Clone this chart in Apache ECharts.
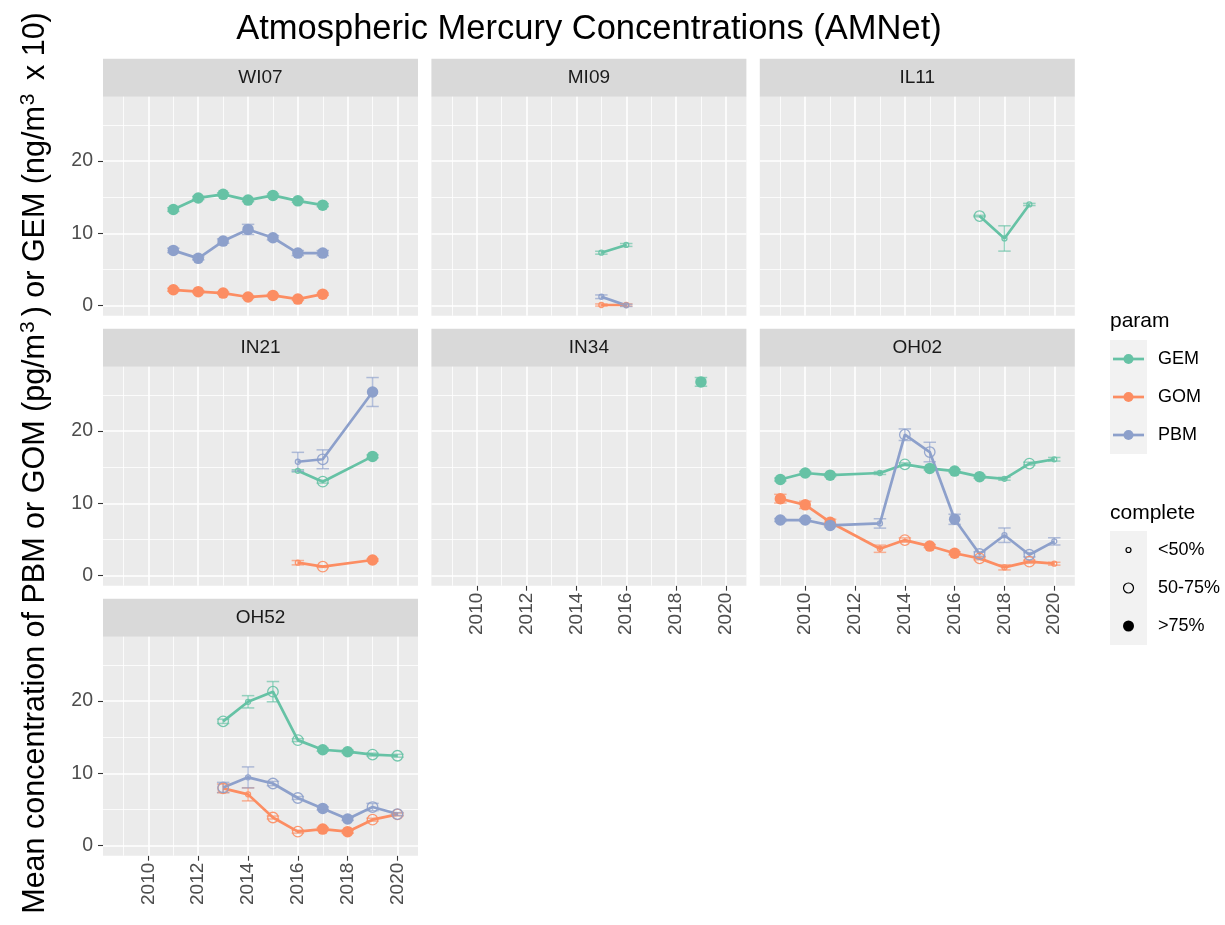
<!DOCTYPE html>
<html><head><meta charset="utf-8">
<script src="https://cdn.jsdelivr.net/npm/echarts@6/dist/echarts.min.js"></script>
<style>html,body{margin:0;background:#fff}#c{width:1225px;height:925px}</style>
</head><body><div id="c"></div><script>
// ---------------- DATA ----------------
const sites = ['WI07','MI09','IL11','IN21','IN34','OH02','OH52'];
const params = ['GEM','GOM','PBM'];
const completeLabels = ['<50%','50-75%','>75%'];
const xTickValues = [2010,2012,2014,2016,2018,2020];
const yTickValues = [0,10,20];

const WI07_years = [2011,2012,2013,2014,2015,2016,2017];
const WI07_GEM = [13.3,14.9,15.4,14.6,15.25,14.5,13.9];
const WI07_GEM_err = [0.25,0.2,0.2,0.2,0.2,0.2,0.2];
const WI07_GEM_cmp = [2,2,2,2,2,2,2];
const WI07_GOM = [2.2,1.94,1.75,1.2,1.43,0.92,1.6];
const WI07_GOM_err = [0.2,0.15,0.15,0.15,0.15,0.15,0.15];
const WI07_GOM_cmp = [2,2,2,2,2,2,2];
const WI07_PBM = [7.65,6.55,8.94,10.55,9.4,7.28,7.28];
const WI07_PBM_err = [0.3,0.2,0.3,0.7,0.3,0.35,0.35];
const WI07_PBM_cmp = [2,2,2,2,2,2,2];

const MI09_years = [2015,2016];
const MI09_GEM = [7.33,8.4];
const MI09_GEM_err = [0.2,0.2];
const MI09_GEM_cmp = [0,0];
const MI09_GOM = [0.1,0.1];
const MI09_GOM_err = [0.15,0.15];
const MI09_GOM_cmp = [0,0];
const MI09_PBM = [1.24,0.05];
const MI09_PBM_err = [0.25,0.15];
const MI09_PBM_cmp = [0,0];

const IL11_years = [2017,2018,2019];
const IL11_GEM = [12.4,9.3,14.0];
const IL11_GEM_err = [0.1,1.75,0.15];
const IL11_GEM_cmp = [1,0,0];

const IN21_years = [2016,2017,2019];
const IN21_GEM = [14.5,13.0,16.5];
const IN21_GEM_err = [0.15,0.2,0.2];
const IN21_GEM_cmp = [0,1,2];
const IN21_GOM = [1.8,1.25,2.17];
const IN21_GOM_err = [0.3,0.1,0.15];
const IN21_GOM_cmp = [0,1,2];
const IN21_PBM = [15.76,16.1,25.4];
const IN21_PBM_err = [1.3,1.3,2.0];
const IN21_PBM_cmp = [0,1,2];

const IN34_years = [2019];
const IN34_GEM = [26.8];
const IN34_GEM_err = [0.6];
const IN34_GEM_cmp = [2];

const OH02_years = [2009,2010,2011,2013,2014,2015,2016,2017,2018,2019,2020];
const OH02_GEM = [13.3,14.2,13.9,14.2,15.4,14.84,14.47,13.7,13.4,15.5,16.1];
const OH02_GEM_err = [0.2,0.2,0.2,0.2,0.2,0.2,0.2,0.2,0.2,0.2,0.25];
const OH02_GEM_cmp = [2,2,2,0,1,2,2,2,0,1,0];
const OH02_GOM = [10.65,9.8,7.4,3.73,4.93,4.1,3.1,2.4,1.15,1.94,1.66];
const OH02_GOM_err = [0.6,0.5,0.4,0.5,0.3,0.2,0.2,0.2,0.35,0.2,0.2];
const OH02_GOM_cmp = [2,2,2,0,1,2,2,1,0,1,0];
const OH02_PBM = [7.7,7.7,6.96,7.23,19.5,17.1,7.8,3.0,5.6,2.9,4.75];
const OH02_PBM_err = [0.2,0.2,0.2,0.65,0.8,1.35,0.7,0.3,1.0,0.3,0.5];
const OH02_PBM_cmp = [2,2,2,0,1,1,2,1,0,1,0];

const OH52_years = [2013,2014,2015,2016,2017,2018,2019,2020];
const OH52_GEM = [17.2,19.9,21.3,14.6,13.27,13.0,12.6,12.44];
const OH52_GEM_err = [0.3,0.85,1.4,0.2,0.2,0.2,0.2,0.2];
const OH52_GEM_cmp = [1,0,1,1,2,2,1,1];
const OH52_GOM = [7.93,7.1,3.9,1.94,2.3,1.94,3.6,4.33];
const OH52_GOM_err = [0.6,0.9,0.2,0.2,0.2,0.2,0.2,0.2];
const OH52_GOM_cmp = [1,0,1,1,2,2,1,1];
const OH52_PBM = [8.06,9.45,8.6,6.6,5.16,3.7,5.35,4.38];
const OH52_PBM_err = [0.7,1.45,0.3,0.2,0.2,0.2,0.5,0.2];
const OH52_PBM_cmp = [1,0,1,1,2,2,1,1];

// --------------- build ----------------
const DATA = {
  WI07: {years: WI07_years, GEM: [WI07_GEM, WI07_GEM_err, WI07_GEM_cmp], GOM: [WI07_GOM, WI07_GOM_err, WI07_GOM_cmp], PBM: [WI07_PBM, WI07_PBM_err, WI07_PBM_cmp]},
  MI09: {years: MI09_years, GEM: [MI09_GEM, MI09_GEM_err, MI09_GEM_cmp], GOM: [MI09_GOM, MI09_GOM_err, MI09_GOM_cmp], PBM: [MI09_PBM, MI09_PBM_err, MI09_PBM_cmp]},
  IL11: {years: IL11_years, GEM: [IL11_GEM, IL11_GEM_err, IL11_GEM_cmp]},
  IN21: {years: IN21_years, GEM: [IN21_GEM, IN21_GEM_err, IN21_GEM_cmp], GOM: [IN21_GOM, IN21_GOM_err, IN21_GOM_cmp], PBM: [IN21_PBM, IN21_PBM_err, IN21_PBM_cmp]},
  IN34: {years: IN34_years, GEM: [IN34_GEM, IN34_GEM_err, IN34_GEM_cmp]},
  OH02: {years: OH02_years, GEM: [OH02_GEM, OH02_GEM_err, OH02_GEM_cmp], GOM: [OH02_GOM, OH02_GOM_err, OH02_GOM_cmp], PBM: [OH02_PBM, OH02_PBM_err, OH02_PBM_cmp]},
  OH52: {years: OH52_years, GEM: [OH52_GEM, OH52_GEM_err, OH52_GEM_cmp], GOM: [OH52_GOM, OH52_GOM_err, OH52_GOM_cmp], PBM: [OH52_PBM, OH52_PBM_err, OH52_PBM_cmp]}
};

const COLORS = {GEM:'#66C2A5', GOM:'#FC8D62', PBM:'#8DA0CB'};
const FONT = '"Liberation Sans", Arial, sans-serif';
const colLeft = [103, 431.4, 759.8];
const rowTop = [96.7, 366.7, 636.7];
const PW = 315, PH = 219, STRIP = 38;
const XMIN = 2008.175, XMAX = 2020.825, YMIN = -1.38, YMAX = 28.9;
const bottomPanels = [4,5,6];
const leftPanels = [0,3,6];

const grids = [], xAxes = [], yAxes = [], series = [], graphics = [];

sites.forEach((s, i) => {
  const r = Math.floor(i/3), c = i%3;
  grids.push({left: colLeft[c], top: rowTop[r], width: PW, height: PH, show: true,
    backgroundColor: '#EBEBEB', borderWidth: 0, containLabel: false});
  const isBottom = bottomPanels.includes(i), isLeft = leftPanels.includes(i);
  xAxes.push({type:'value', gridIndex:i, min:XMIN, max:XMAX,
    axisLine:{show:false, onZero:false}, splitLine:{show:false},
    axisTick:{show:isBottom, customValues:xTickValues, length:5, lineStyle:{color:'#333333', width:1.1}},
    axisLabel:{show:isBottom, customValues:xTickValues, rotate:90, margin:7, fontSize:19, color:'#4D4D4D', fontFamily:FONT,
      formatter: v => String(v)}});
  yAxes.push({type:'value', gridIndex:i, min:YMIN, max:YMAX,
    axisLine:{show:false, onZero:false}, splitLine:{show:false},
    axisTick:{show:isLeft, customValues:yTickValues, length:5, lineStyle:{color:'#333333', width:1.1}},
    axisLabel:{show:isLeft, customValues:yTickValues, margin:10, fontSize:19.5, color:'#4D4D4D', fontFamily:FONT,
      formatter: v => String(v)}});
  // gridlines
  const ml = [];
  for (let y = 2009; y <= 2020; y++) ml.push({xAxis:y, lineStyle:{color:'#FFFFFF', width:(y%2===0)?1.6:0.8, type:'solid'}});
  [0,5,10,15,20,25].forEach(v => ml.push({yAxis:v, lineStyle:{color:'#FFFFFF', width:(v%10===0)?1.6:0.8, type:'solid'}}));
  series.push({type:'line', xAxisIndex:i, yAxisIndex:i, data:[], silent:true, z:1,
    markLine:{silent:true, z:1, symbol:['none','none'], label:{show:false}, animation:false, emphasis:{disabled:true}, data:ml}});
  // strip
  graphics.push({type:'rect', shape:{x:colLeft[c], y:rowTop[r]-STRIP, width:PW, height:STRIP}, style:{fill:'#D9D9D9'}, silent:true});
  graphics.push({type:'text', x:colLeft[c]+PW/2, y:rowTop[r]-STRIP/2, style:{text:s, fontSize:19, fontFamily:FONT, fill:'#1A1A1A', align:'center', verticalAlign:'middle'}, silent:true});

  const d = DATA[s];
  params.forEach(p => {
    if (!d[p]) return;
    const [vals, errs, cmps] = d[p];
    const col = COLORS[p];
    const pts = d.years.map((yr, k) => [yr, vals[k]]);
    series.push({type:'line', xAxisIndex:i, yAxisIndex:i, data:pts, showSymbol:false, symbol:'none', z:3, silent:true,
      lineStyle:{color:col, width:2.7}, animation:false});
    series.push({type:'custom', xAxisIndex:i, yAxisIndex:i, z:4, silent:true, animation:false,
      data: d.years.map((yr,k) => [yr, vals[k], vals[k]-errs[k], vals[k]+errs[k]]),
      encode:{x:0, y:[2,3]},
      renderItem: (params, api) => {
        const x = api.value(0), lo = api.value(2), hi = api.value(3);
        const a = api.coord([x, lo]), b = api.coord([x, hi]);
        const l = api.coord([x-0.25, lo])[0], rr = api.coord([x+0.25, lo])[0];
        const st = {stroke: col, lineWidth: 1.5, opacity: 0.65};
        return {type:'group', children:[
          {type:'line', shape:{x1:a[0], y1:a[1], x2:b[0], y2:b[1]}, style:st},
          {type:'line', shape:{x1:l, y1:a[1], x2:rr, y2:a[1]}, style:st},
          {type:'line', shape:{x1:l, y1:b[1], x2:rr, y2:b[1]}, style:st}
        ]};
      }});
    series.push({type:'scatter', xAxisIndex:i, yAxisIndex:i, z:5, silent:true, animation:false,
      data: d.years.map((yr,k) => {
        const cm = cmps[k];
        if (cm === 2) return {value:[yr, vals[k]], symbolSize:11.5, itemStyle:{color:col, opacity:1}};
        if (cm === 1) return {value:[yr, vals[k]], symbolSize:10.5, itemStyle:{color:'rgba(0,0,0,0)', borderColor:col, borderWidth:1.3, opacity:0.9}};
        return {value:[yr, vals[k]], symbolSize:5, itemStyle:{color:'rgba(0,0,0,0)', borderColor:col, borderWidth:1.3, opacity:0.9}};
      }),
      symbol:'circle'});
  });
});

// title
graphics.push({type:'text', x:589, y:29, style:{text:'Atmospheric Mercury Concentrations (AMNet)', fontSize:34.5, fontFamily:FONT, fill:'#000', align:'center', verticalAlign:'middle'}, silent:true});
// y axis title
graphics.push({type:'text', x:36, y:463, rotation:Math.PI/2, style:{
  text:'Mean concentration of PBM or GOM (pg/m{s|3}) or GEM (ng/m{s|3} x 10)',
  fontSize:30.5, fontFamily:FONT, fill:'#000', align:'center', verticalAlign:'middle',
  rich:{s:{fontSize:21, fontFamily:FONT, fill:'#000', padding:[0,5,15,1]}}}, silent:true});

// legend: param
const LX = 1110;
graphics.push({type:'text', x:LX, y:321, style:{text:'param', fontSize:21, fontFamily:FONT, fill:'#000', align:'left', verticalAlign:'middle'}});
graphics.push({type:'rect', shape:{x:LX, y:340, width:37, height:114}, style:{fill:'#F2F2F2'}});
params.forEach((p, k) => {
  const cy = 359 + k*38;
  graphics.push({type:'line', shape:{x1:LX+3, y1:cy, x2:LX+34, y2:cy}, style:{stroke:COLORS[p], lineWidth:2.7}});
  graphics.push({type:'circle', shape:{cx:LX+18.5, cy:cy, r:5}, style:{fill:COLORS[p]}});
  graphics.push({type:'text', x:1158, y:cy, style:{text:p, fontSize:18, fontFamily:FONT, fill:'#000', align:'left', verticalAlign:'middle'}});
});
graphics.push({type:'text', x:LX, y:513, style:{text:'complete', fontSize:21, fontFamily:FONT, fill:'#000', align:'left', verticalAlign:'middle'}});
graphics.push({type:'rect', shape:{x:LX, y:531, width:37, height:114}, style:{fill:'#F2F2F2'}});
completeLabels.forEach((lab, k) => {
  const cy = 550 + k*38;
  if (k === 0) graphics.push({type:'circle', shape:{cx:LX+18.5, cy:cy, r:2.5}, style:{fill:'none', stroke:'#000', lineWidth:1.2}});
  if (k === 1) graphics.push({type:'circle', shape:{cx:LX+18.5, cy:cy, r:5}, style:{fill:'none', stroke:'#000', lineWidth:1.2}});
  if (k === 2) graphics.push({type:'circle', shape:{cx:LX+18.5, cy:cy, r:5.5}, style:{fill:'#000'}});
  graphics.push({type:'text', x:1158, y:cy, style:{text:lab, fontSize:18, fontFamily:FONT, fill:'#000', align:'left', verticalAlign:'middle'}});
});

const chart = echarts.init(document.getElementById('c'), null, {renderer:'canvas'});
chart.setOption({
  animation:false,
  backgroundColor:'#FFFFFF',
  grid: grids, xAxis: xAxes, yAxis: yAxes, series: series,
  graphic: {elements: graphics}
});
</script></body></html>
